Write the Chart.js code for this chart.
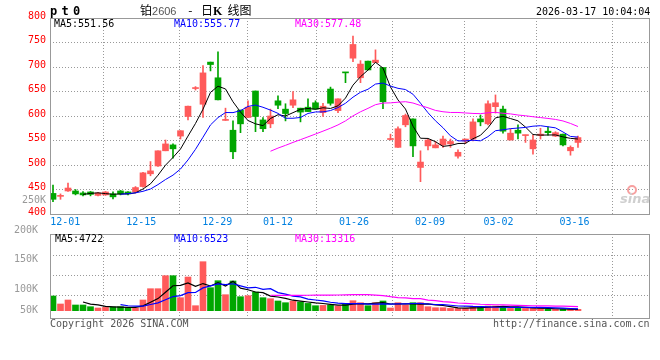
<!DOCTYPE html>
<html><head><meta charset="utf-8">
<script src="https://cdn.jsdelivr.net/npm/chart.js@4"></script>
<style>
html,body{margin:0;padding:0;background:#fff;}
#wrap{position:relative;width:660px;height:360px;overflow:hidden;background:#fff;}
canvas{position:absolute;left:0;top:0;}
.t{position:absolute;font-family:'DejaVu Sans Mono',monospace;font-size:10px;line-height:10px;white-space:pre;color:#000;}
</style></head><body>
<div id="wrap">
<canvas id="vol" width="660" height="360"></canvas>
<canvas id="main" width="660" height="360"></canvas>
<div class="t" style="left:50px;top:5px;font-weight:bold;font-size:12px;line-height:12px;letter-spacing:4.3px">pt0</div>
<div class="t" style="left:140px;top:4px;font-family:'Noto Sans CJK SC',sans-serif;font-size:12px;line-height:12px">铂<span style="font-family:'Liberation Sans',sans-serif;font-size:11px;color:#555">2606</span><span style="margin-left:9px;margin-right:6px"> - </span>日<b style="font-family:'Liberation Serif',serif">K</b><span style="margin-left:5px">线图</span></div>
<div class="t" style="left:536px;top:7px">2026-03-17 10:04:04</div>
<div class="t" style="left:54px;top:19px">MA5:551.56</div>
<div class="t" style="left:174px;top:19px;color:#0000ff">MA10:555.77</div>
<div class="t" style="left:295px;top:19px;color:#ff00ff">MA30:577.48</div>
<div class="t" style="left:55px;top:234px">MA5:4722</div>
<div class="t" style="left:174px;top:234px;color:#0000ff">MA10:6523</div>
<div class="t" style="left:295px;top:234px;color:#ff00ff">MA30:13316</div>
<div class="t" style="left:50px;top:319px;color:#555">Copyright 2026 SINA.COM</div>
<div class="t" style="left:493px;top:319px;color:#555">http://finance.sina.com.cn</div>
<div style="position:absolute;left:627px;top:185px;width:6px;height:6px;border:2px solid #f7a0a0;border-radius:50%"></div>
<div class="t" style="left:620px;top:192px;font-family:'DejaVu Sans',sans-serif;font-style:italic;font-weight:bold;font-size:13px;line-height:13px;color:#cfcfcf">sina</div>
</div>
<script>
// ---- data ----
const opens  = [442,436,447,447,443,445,438,439,441,447,445,445,456,482,498,529,541,559,599,656,624,710,678,591,571,612,597,651,592,584,631,614,622,616,618,627,607,655,611,689,718,678,712,709,699,552,536,582,594,495,539,535,541,543,518,549,553,594,584,619,614,551,571,560,533,560,569,559,563,529,546];
const highs  = [459,441,463,450,446,446,444,446,445,448,446,456,485,507,529,551,543,570,620,660,703,710,731,616,590,612,631,651,597,614,641,625,650,616,635,631,626,659,635,689,763,713,712,735,699,563,578,604,594,529,553,548,559,553,531,553,594,602,631,643,620,574,582,561,561,575,578,568,563,539,559];
const lows   = [425,430,446,439,437,437,437,438,431,439,439,443,455,478,497,529,514,553,592,653,597,692,633,591,513,566,597,568,568,576,615,590,617,588,609,614,599,622,607,668,711,668,694,709,615,551,536,578,517,466,531,535,536,536,514,544,549,580,582,606,565,551,553,546,522,553,561,558,539,520,536];
const closes = [430,437,453,441,439,440,443,445,435,441,441,454,484,488,529,543,533,570,620,658,688,705,633,592,527,584,618,599,574,600,622,605,633,608,609,614,620,626,635,688,746,706,694,714,629,553,574,601,539,506,551,541,553,548,526,553,588,588,625,627,569,565,565,561,551,563,566,566,541,536,556];
const ma5  = [null,null,null,null,440,442,443.2,441.6,440.4,440.8,441,443.2,451,461.6,479.2,499.6,515.4,532.6,559,584.8,613.8,648.2,660.8,655.2,629,608.2,590.8,584,580.4,595,602.6,600,606.8,613.6,615.4,613.8,616.8,615.4,620.8,636.6,663,680.2,693.8,709.6,697.8,659.2,632.8,614.2,579.2,554.6,554.2,547.6,538,539.8,543.8,544.2,553.6,560.6,576,596.2,599.4,594.8,590.2,577.4,562.2,561,561.2,561.4,557.4,554.4,553];
const ma10 = [null,null,null,null,null,null,null,null,null,440.4,441.5,443.2,446.3,451,460,470.3,479.3,491.8,510.3,532,556.7,581.8,596.7,607.1,606.9,611,619.5,622.4,617.8,612,605.4,595.4,595.4,597,605.2,608.2,608.4,611.1,617.2,626,638.4,648.5,654.6,665.2,667.2,661.1,656.5,654,644.4,626.2,606.7,590.2,576.1,559.5,549.2,549.2,550.6,549.3,557.9,570,571.8,574.2,575.4,576.7,579.2,580.2,578,575.8,567.4,558.3,557];
const ma30 = [null,null,null,null,null,null,null,null,null,null,null,null,null,null,null,null,null,null,null,null,null,null,null,null,null,null,null,null,null,528.1,534.5,540.1,546.1,551.7,557.4,563.2,569.1,575.1,581.8,590,600.2,608.6,615.6,623.1,626.4,626.8,628.1,629.2,626.5,621.4,616.8,611.4,608.7,607.2,607.2,606.2,605.2,604.8,606.5,607.4,605.6,604.3,602,600.5,598.5,596.8,595,593,589.9,584.8,578.5];
const volumes = [50000,22800,36400,19400,19400,13600,9200,11200,12600,13600,10200,9200,36400,74800,74800,119000,119000,44200,114600,17000,166600,78200,102000,54400,101000,47600,51000,63600,44200,40800,33000,27200,33000,29600,24800,17000,18000,19400,16000,22800,34000,27200,17000,27200,33000,9200,27200,19400,27200,27200,13600,10200,10200,7800,7800,7800,13600,13600,16000,16000,13600,7800,10400,7800,7800,7800,4700,4700,4800,4700,4700];
const vma5  = [null,null,null,null,29600,22320,19600,14560,13200,12040,11360,11360,16400,28840,41080,62840,84800,86360,94320,82760,92280,84120,95680,83640,100440,76640,71200,63520,61480,49440,46520,41760,35640,32720,29520,26320,24480,21760,19040,18640,22040,23880,23400,25640,27680,22720,22720,23200,23200,22040,22920,19520,17680,13800,9920,8760,9440,10120,11760,13400,14560,13400,12760,11120,9480,8320,7700,6560,5960,5340,4720];
const vma10 = [null,null,null,null,null,null,null,null,null,20820,16840,15480,15480,21020,26560,37100,48080,51380,61580,61920,77560,84460,91020,88980,91600,84460,77660,79600,72560,74940,61580,56480,49580,47100,39480,36420,33120,28700,25880,24080,24180,24180,22580,22340,23160,22380,23300,23300,24420,24860,22820,21120,20440,18500,15980,15840,14480,13900,12780,11660,11660,11420,11440,11440,11440,11440,10550,9660,8540,7410,6520];
const vma30 = [null,null,null,null,null,null,null,null,null,null,null,null,null,null,null,null,null,null,null,null,null,null,null,null,null,null,null,null,null,52560,51990,52140,52030,52370,52550,52660,52950,53230,53340,53650,54440,55040,54390,52810,51410,47750,44690,43870,40950,41290,36190,33930,30870,29310,26210,24880,23630,21970,21030,20200,19550,18910,18150,17430,16860,16550,16110,15620,15250,14640,13670];
const dateLabels = ['12-01','12-15','12-29','01-12','01-26','02-09','03-02','03-16'];
const dateIdx    = [2,12,22,30,40,50,59,69];
const priceTicks = [800,750,700,650,600,550,500,450,400];
const mainExtraLabel = '250K';
const volTickLabels = ['200K','150K','100K','50K'];

// ---- styling ----
const RED = '#ff5a5a', GREEN = '#00a600', GRID = '#999999';
const FONT = {family:"'DejaVu Sans Mono', monospace", size:10};
const colors = closes.map((c,i) => c >= opens[i] ? RED : GREEN);
const pts = arr => arr.map((v,i) => v == null ? null : {x:i, y:v}).filter(p => p);

const frame = { id:'frame', afterDraw(chart){
  const {ctx, chartArea:a} = chart;
  ctx.save(); ctx.strokeStyle = '#999'; ctx.lineWidth = 1;
  ctx.strokeRect(Math.round(a.left)+0.5, Math.round(a.top)+0.5, Math.round(a.right-a.left), Math.round(a.bottom-a.top));
  ctx.restore();
}};

const lineDs = (arr, color, w, xid, yid) => ({type:'line', data:pts(arr), borderColor:color, borderWidth:w, pointRadius:0, tension:0, order:1, xAxisID:xid, yAxisID:yid});

const dateGridAxis = (showLabels) => ({
  type:'linear', position:'bottom', min:0, max:78.8, offset:false,
  afterBuildTicks: s => { s.ticks = dateIdx.map(v => ({value:v})); },
  afterFit: s => { s.height = showLabels ? 16 : 0; },
  grid: {color:GRID, drawTicks:false, lineWidth:1},
  border: {display:false, dash:[1,2]},
  ticks: {display:showLabels, autoSkip:false, maxRotation:0, minRotation:0, padding:2, color:'#0080e0', font:FONT,
    callback: v => { const k = dateIdx.indexOf(v); return k >= 0 ? dateLabels[k] : ''; }}
});

new Chart(document.getElementById('main'), {
  type:'bar',
  data:{ datasets:[
    {type:'bar', data: highs.map((h,i) => ({x:i, y:[lows[i], h]})), backgroundColor:colors, barThickness:1, grouped:false, order:3, xAxisID:'x', yAxisID:'y'},
    {type:'bar', data: opens.map((o,i) => ({x:i, y:[o, closes[i]]})), backgroundColor:colors, barThickness:6, minBarLength:1, grouped:false, order:2, xAxisID:'x', yAxisID:'y'},
    lineDs(ma30, '#ff00ff', 1, 'x', 'y'),
    lineDs(ma10, '#0000ff', 1, 'x', 'y'),
    lineDs(ma5, '#000000', 1, 'x', 'y')
  ]},
  options:{
    responsive:false, animation:false, devicePixelRatio:1,
    layout:{padding:{left:0, right:11, top:18, bottom:130}},
    plugins:{legend:{display:false}, tooltip:{enabled:false}},
    scales:{
      x:{type:'linear', display:false, min:-0.4, max:79.47, offset:false},
      xg: dateGridAxis(true),
      y:{type:'linear', position:'left', min:400, max:800,
        afterBuildTicks: s => { s.ticks = priceTicks.map(v => ({value:v})).concat([{value:423}]); },
        afterFit: s => { s.width = 50; },
        grid:{drawTicks:false, lineWidth:1, color: c => (c.tick && [400,800,423].includes(c.tick.value)) ? 'rgba(0,0,0,0)' : GRID},
        border:{display:false, dash:[1,2]},
        ticks:{autoSkip:false, padding:4, labelOffset:-2, font:FONT,
          color: c => (c.tick && c.tick.value === 423) ? '#999' : '#ff0000',
          callback: v => v === 423 ? mainExtraLabel : String(v)}
      }
    }
  },
  plugins:[frame]
});

// volume panel: 0 sits a few px above the bottom border, like the reference
const VMIN = -24820, VMAX = 260780;
const volLabelAt = [258000, 159500, 57500, -14000];
const volGridAt = [187000, 119000, 51000];
new Chart(document.getElementById('vol'), {
  type:'bar',
  data:{ datasets:[
    {type:'bar', data: volumes.map((v,i) => ({x:i, y:v})), backgroundColor:colors, barThickness:6, grouped:false, order:2, xAxisID:'vx', yAxisID:'vy'},
    lineDs(vma30, '#ff00ff', 1.2, 'vx', 'vy'),
    lineDs(vma10, '#0000ff', 1.2, 'vx', 'vy'),
    lineDs(vma5, '#000000', 1.2, 'vx', 'vy')
  ]},
  options:{
    responsive:false, animation:false, devicePixelRatio:1,
    layout:{padding:{left:0, right:11, top:234, bottom:42}},
    plugins:{legend:{display:false}, tooltip:{enabled:false}},
    scales:{
      vx:{type:'linear', display:false, min:-0.4, max:79.47, offset:false},
      vxg: dateGridAxis(false),
      vy:{type:'linear', position:'left', min:VMIN, max:VMAX,
        afterBuildTicks: s => { s.ticks = volLabelAt.map(v => ({value:v})); },
        afterFit: s => { s.width = 50; },
        grid:{display:false},
        border:{display:false},
        ticks:{autoSkip:false, padding:4, labelOffset:-4, font:FONT, color:'#999',
          callback: v => { const k = volLabelAt.indexOf(v); return k >= 0 ? volTickLabels[k] : ''; }}
      },
      vg:{type:'linear', position:'right', min:VMIN, max:VMAX,
        afterBuildTicks: s => { s.ticks = volGridAt.map(v => ({value:v})); },
        afterFit: s => { s.width = 0; },
        grid:{drawTicks:false, color:GRID, lineWidth:1},
        border:{display:false, dash:[1,2]},
        ticks:{display:false}
      }
    }
  },
  plugins:[frame]
});
</script>
</body></html>
